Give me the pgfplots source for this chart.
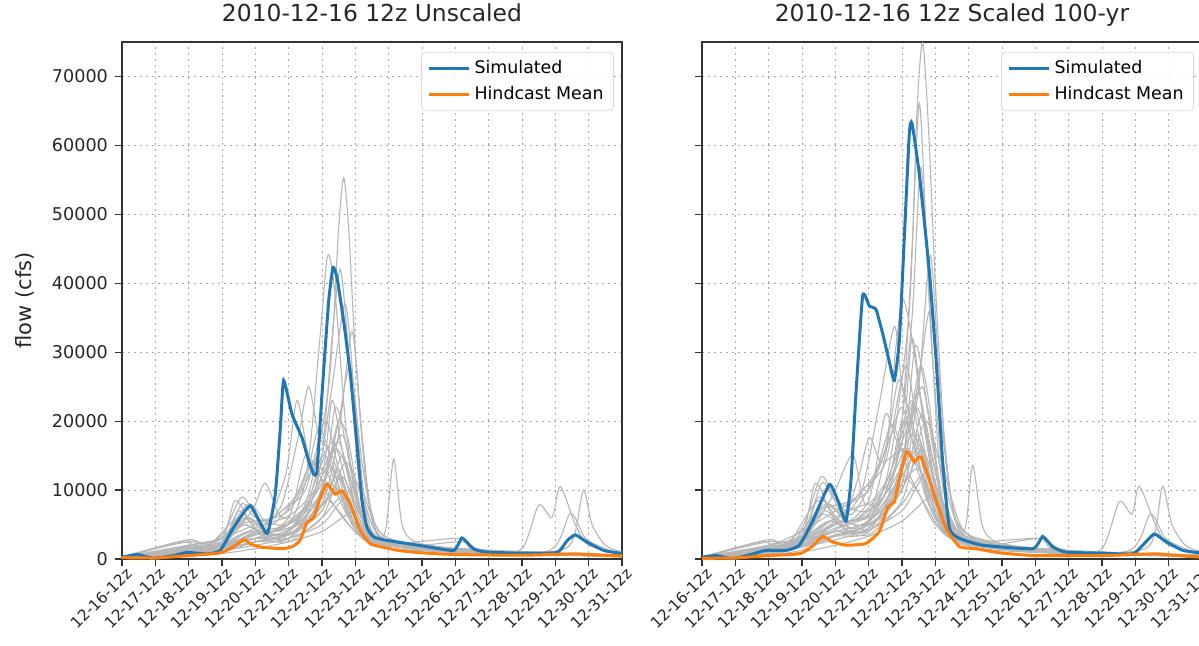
\documentclass[border=0pt]{standalone}
\usepackage{fontspec}
\setmainfont{DejaVu Sans}
\usepackage{pgfplots}
\pgfplotsset{compat=1.18}
\definecolor{mblue}{RGB}{31,119,180}
\definecolor{morange}{RGB}{255,127,14}
\definecolor{ensgray}{RGB}{182,182,182}
\pgfplotsset{
  panel/.style={
    anchor=south west, width=250pt, height=258.5pt, scale only axis,
    xmin=0, xmax=15, ymin=0, ymax=75000,
    xtick={0,...,15},
    xticklabels={12-16-12z,12-17-12z,12-18-12z,12-19-12z,12-20-12z,12-21-12z,12-22-12z,12-23-12z,12-24-12z,12-25-12z,12-26-12z,12-27-12z,12-28-12z,12-29-12z,12-30-12z,12-31-12z},
    ytick={0,10000,...,70000},
    scaled y ticks=false,
    /pgf/number format/fixed,
    /pgf/number format/1000 sep={},
    /pgf/number format/assume math mode=true,
    xticklabel style={rotate=45, anchor=north east, font=\fontsize{7.7}{8}\selectfont, inner sep=1pt, xshift=2pt, text=black!85},
    yticklabel style={font=\fontsize{8.8}{10}\selectfont, text=black!85},
    tick align=outside, major tick length=3.5pt,
    xtick pos=bottom, ytick pos=left,
    tick style={black!80, line width=0.6pt},
    axis line style={black!80, line width=0.8pt},
    grid=major, major grid style={gray!70, line width=0.5pt, dash pattern=on 1pt off 2pt},
    title style={font=\fontsize{11.7}{14}\selectfont, at={(0.5,1)}, anchor=base, yshift=4.5pt, text=black!85},
    legend style={at={(0.984,0.981)}, anchor=north east, draw=black!15, rounded corners=2pt,
      font=\fontsize{8.7}{10}\selectfont, fill=white, fill opacity=0.85, text opacity=1,
      row sep=1pt, inner xsep=3pt, inner ysep=2pt},
    legend cell align=left,
    legend image code/.code={\draw[#1] (0pt,0pt) -- (20pt,0pt);},
    clip=true,
  },
  gl/.style={color=ensgray, line width=0.55pt, smooth, tension=0.45, forget plot},
  sim/.style={color=mblue, line width=1.5pt, smooth, tension=0.3},
  hmean/.style={color=morange, line width=1.5pt, smooth, tension=0.3},
}
\begin{document}
\begin{tikzpicture}
% ---------------- left panel ----------------
\begin{axis}[panel, at={(61pt,43pt)},
  title={2010-12-16 12z Unscaled},
  ylabel={flow (cfs)},
  ylabel style={font=\fontsize{10.5}{12}\selectfont, at={(axis description cs:-0.194,0.5)}, anchor=center, text=black!85}]
\addplot[gl] coordinates {(0,200) (1,300) (2,1500) (3,2500) (3.7,6000) (4.5,4000) (5.5,8000) (6.2,25000) (6.5,48000) (6.65,55300) (6.8,48000) (7.0,30000) (7.3,12000) (7.6,5000) (8,3000) (9,2000) (10,1500) (12,1000) (15,600)};
\addplot[gl] coordinates {(0,100) (1,200) (2,2000) (3,3000) (3.8,8000) (4.5,5000) (5.5,12000) (5.9,30000) (6.17,44000) (6.4,38000) (6.7,20000) (7,9000) (7.4,4000) (8,2500) (9,1800) (11,1000) (15,500)};
\addplot[gl] coordinates {(0,150) (2,800) (3,2000) (3.6,5000) (4.5,3500) (5.5,6000) (6,15000) (6.3,32000) (6.55,42000) (6.8,30000) (7.1,12000) (7.5,4000) (8,2500) (10,1200) (15,500)};
\addplot[gl] coordinates {(0,200) (2,1200) (3,1500) (4,4000) (5,5000) (5.8,10000) (6.3,25000) (6.7,37000) (7,22000) (7.3,8000) (7.8,3000) (9,2000) (12,900) (15,500)};
\addplot[gl] coordinates {(0,100) (2,1000) (3,3500) (3.6,9000) (4.2,5000) (4.8,8000) (5.3,18000) (5.6,25000) (5.9,18000) (6.3,15000) (6.7,9000) (7.2,4000) (8,2000) (10,1000) (15,400)};
\addplot[gl] coordinates {(0,300) (2,2500) (3,2000) (3.5,7000) (4.2,4000) (4.9,12000) (5.25,23000) (5.6,15000) (6.2,12000) (6.8,6000) (7.5,3000) (9,1500) (15,500)};
\addplot[gl] coordinates {(0,200) (2,700) (3,1500) (4,3000) (5,3000) (5.8,7000) (6.2,14000) (6.5,20000) (6.8,17000) (7.2,6000) (7.7,2500) (10,1200) (15,500)};
\addplot[gl] coordinates {(0,100) (2,1800) (3,2500) (3.8,6000) (4.6,3000) (5.5,7000) (6,15000) (6.4,12000) (6.9,5000) (7.5,2500) (9,1500) (15,400)};
\addplot[gl] coordinates {(0,200) (2,1000) (3,2000) (3.9,7000) (4.3,11000) (4.8,6000) (5.6,9000) (6.3,17000) (6.8,10000) (7.3,4000) (8,2500) (10,1300) (15,600)};
\addplot[gl] coordinates {(0,200) (2,1500) (3,1800) (4,3000) (5,4000) (6,9000) (6.5,12000) (7,6000) (7.5,3000) (7.9,4000) (8.15,14500) (8.4,5000) (8.8,2500) (10,1500) (12,800) (15,400)};
\addplot[gl] coordinates {(0,100) (2,1200) (3,1500) (4,2500) (5,3500) (6,8000) (6.5,10000) (7,6000) (7.5,2500) (9,1500) (11,900) (12,1500) (12.5,7800) (12.9,6000) (13.15,10500) (13.6,5000) (14,2000) (15,800)};
\addplot[gl] coordinates {(0,200) (2,800) (3,2000) (4,3000) (5,2500) (6,6000) (6.6,9000) (7,5000) (7.6,2000) (9,1200) (12,800) (13.3,1500) (13.6,4000) (13.85,10000) (14.1,5000) (14.5,2000) (15,1000)};
\addplot[gl] coordinates {(0,100) (2,1500) (3,2500) (3.7,5000) (4.4,3000) (5.5,5000) (6.2,11000) (6.7,8000) (7.2,3000) (8,2000) (10,1000) (12.8,1200) (13.45,6600) (13.9,3000) (14.5,1500) (15,700)};
\addplot[gl] coordinates {(0,200) (2,600) (3,1000) (4,2500) (5,3500) (6,8000) (6.5,18000) (6.9,33000) (7.2,18000) (7.5,6000) (8,2500) (10,1200) (15,500)};
\addplot[gl] coordinates {(0,300) (2,2000) (3,3000) (3.4,8500) (3.9,5000) (4.5,3000) (5.5,5000) (6.2,9000) (6.6,12000) (7,8000) (7.5,3000) (8.5,1800) (10.2,2500) (11,1200) (15,500)};
\addplot[gl] coordinates {(0,100) (2,1000) (3,1500) (4,2500) (5,3000) (6,10000) (6.5,20000) (6.85,28000) (7.2,14000) (7.6,4000) (8.2,2500) (10,1300) (15,500)};
\addplot[gl] coordinates {(0,200) (2,1500) (3,2000) (4,4500) (5,6000) (5.5,5000) (6,9000) (6.5,7000) (7,4000) (8,2000) (10,1000) (15,400)};
\addplot[gl] coordinates {(0,100) (2,500) (3,800) (4,1500) (5,2500) (6,4000) (7,7000) (7.5,4000) (8,2000) (10,1000) (15,300)};
\addplot[gl] coordinates {(0,100) (2,900) (3,1800) (4,3500) (5,5000) (5.5,11000) (5.9,19000) (6.3,14000) (6.8,6000) (7.5,2500) (9,1500) (15,400)};
\addplot[gl] coordinates {(0,150) (2,1200) (3,2200) (3.8,4000) (4.8,3500) (5.8,8000) (6.4,16000) (6.9,11000) (7.4,4000) (8,2200) (10.1,3000) (10.5,1500) (12,900) (15,500)};
\addplot[gl] coordinates {(0,100) (1.8,2500) (2.5,1500) (3.5,6000) (4.5,4000) (5.6,8000) (6.3,13000) (6.7,10000) (7.2,4000) (8,2000) (10,1000) (15,400)};
\addplot[gl] coordinates {(0,200) (2,800) (3,1500) (4,3500) (5,4500) (6,7000) (6.6,15000) (7,9000) (7.5,3000) (9,1500) (15,500)};
\addplot[gl] coordinates {(0,100) (2,1200) (3,2500) (3.6,8000) (4,6000) (5,5000) (6,10000) (6.4,22000) (6.8,15000) (7.3,5000) (8,2500) (10,1200) (15,500)};
\addplot[gl] coordinates {(0,300) (2,2800) (2.6,1800) (3.5,5000) (4.5,6000) (5.2,9000) (5.7,14000) (6.2,9000) (6.8,5000) (7.5,2500) (10,1200) (15,400)};
\addplot[gl] coordinates {(0,150) (2,1000) (3,1500) (4,2500) (5,4000) (6,12000) (6.6,18000) (6.9,12000) (7.3,5000) (8,2500) (10,1200) (15,500)};
\addplot[gl] coordinates {(0,200) (2,1500) (3,2000) (4,4000) (4.8,7000) (5.5,10000) (6.1,20000) (6.5,13000) (7,6000) (7.5,3000) (10,1300) (15,500)};
\addplot[gl] coordinates {(0,100) (2,600) (3,1200) (4,2000) (5,3000) (6,5000) (6.5,8000) (7.1,11000) (7.5,6000) (8,3000) (10,1300) (15,500)};
\addplot[gl] coordinates {(0,200) (2,2000) (3,3000) (4,5000) (5,7000) (5.6,12000) (6,16000) (6.4,11000) (7,5000) (8,2300) (10,1200) (15,500)};
\addplot[gl] coordinates {(0,100) (2,900) (3,2000) (3.9,4000) (5,3500) (6,7000) (6.45,13000) (6.8,9000) (7.3,3500) (8,2000) (10,1100) (15,500)};
\addplot[gl] coordinates {(0,200) (2,1300) (3,2000) (4,3000) (5,6000) (5.5,15000) (5.9,12000) (6.5,17000) (7,8000) (7.6,3000) (9,1600) (15,500)};
\addplot[gl] coordinates {(0,150) (2,1100) (3,2000) (4,3500) (5.2,5000) (6,12000) (6.3,23000) (6.6,16000) (7.1,6000) (7.8,2800) (10,1300) (15,500)};
\addplot[gl] coordinates {(0,200) (2,1700) (3,1800) (4.2,4000) (5,3000) (6,6000) (6.7,14000) (7.2,9000) (7.7,3500) (9,1800) (15,500)};
\addplot[sim] coordinates {(0,250) (0.45,650) (0.95,100) (1.55,500) (1.95,950) (2.55,750) (2.95,1250) (3.35,4600) (3.85,7700) (4.35,3700) (4.6,9500) (4.75,19000) (4.85,25900) (5.1,21000) (5.4,17600) (5.6,14200) (5.75,12300) (5.85,12800) (6.0,23900) (6.2,37400) (6.33,42300) (6.45,40800) (6.65,34500) (6.85,26800) (7.05,16600) (7.2,8400) (7.35,4600) (7.55,3200) (7.95,2700) (8.95,1950) (9.95,1250) (10.2,3050) (10.55,1450) (10.95,1000) (12,850) (13.05,950) (13.35,2650) (13.6,3500) (13.95,2450) (14.45,1250) (15,800)};
\addlegendentry{Simulated}
\addplot[hmean] coordinates {(0,200) (1,150) (2,500) (2.95,900) (3.35,1800) (3.66,2800) (3.85,2200) (4.2,1700) (4.85,1500) (5.15,1900) (5.35,2800) (5.55,5300) (5.75,6000) (5.95,8900) (6.15,10900) (6.4,9400) (6.6,9900) (6.85,8000) (7.15,4100) (7.45,2200) (7.85,1700) (8.35,1200) (9,900) (10,650) (12,550) (13.6,750) (14,650) (15,450)};
\addlegendentry{Hindcast Mean}
\end{axis}
% ---------------- right panel ----------------
\begin{axis}[panel, at={(351pt,43pt)},
  title={2010-12-16 12z Scaled 100-yr},
  yticklabels={}]
\addplot[gl] coordinates {(0,200) (1,300) (2,1500) (3,3000) (3.7,8000) (4.5,5500) (5.5,11000) (6.2,35000) (6.45,65000) (6.62,74900) (6.8,62000) (7.0,40000) (7.3,15000) (7.6,6000) (8,3500) (9,2200) (10,1600) (12,1000) (15,600)};
\addplot[gl] coordinates {(0,100) (1,200) (2,2000) (3,3500) (3.8,10000) (4.5,6500) (5.5,16000) (5.8,30000) (6.02,37700) (6.3,32000) (6.7,18000) (7,10000) (7.4,4500) (8,2800) (9,1900) (11,1000) (15,500)};
\addplot[gl] coordinates {(0,150) (2,800) (3,2500) (3.6,6500) (4.5,4500) (5.5,8000) (6,20000) (6.3,45000) (6.52,66100) (6.75,45000) (7.1,15000) (7.5,5000) (8,2800) (10,1300) (15,500)};
\addplot[gl] coordinates {(0,200) (2,1200) (3,1800) (4,5000) (5,6500) (5.8,13000) (6.3,35000) (6.57,56800) (6.9,30000) (7.3,9000) (7.8,3500) (9,2000) (12,900) (15,500)};
\addplot[gl] coordinates {(0,100) (2,1000) (3,4500) (3.6,12000) (4.2,6500) (4.8,10000) (5.3,22000) (5.77,33700) (6.0,25000) (6.3,20000) (6.7,12000) (7.2,5000) (8,2200) (10,1000) (15,400)};
\addplot[gl] coordinates {(0,300) (2,2500) (3,2500) (3.5,9000) (4.2,5500) (4.7,12000) (5.02,17600) (5.4,14000) (6.2,16000) (6.8,8000) (7.5,3500) (9,1500) (15,500)};
\addplot[gl] coordinates {(0,200) (2,700) (3,2000) (4,4000) (5,4000) (5.8,9000) (6.2,19000) (6.55,28000) (6.8,23000) (7.2,8000) (7.7,3000) (10,1200) (15,500)};
\addplot[gl] coordinates {(0,100) (2,1800) (3,3000) (3.8,8000) (4.6,4000) (5.5,9500) (6,20000) (6.4,16000) (6.9,7000) (7.5,3000) (9,1500) (15,400)};
\addplot[gl] coordinates {(0,200) (2,1000) (3,2500) (3.9,9000) (4.52,15100) (4.9,8000) (5.6,12000) (6.3,23000) (6.8,13000) (7.3,5000) (8,2800) (10,1300) (15,600)};
\addplot[gl] coordinates {(0,200) (2,1500) (3,2200) (4,4000) (5,5500) (6,12000) (6.5,16000) (7,8000) (7.5,3500) (7.9,4500) (8.12,13600) (8.4,5000) (8.8,2500) (10,1500) (12,800) (15,400)};
\addplot[gl] coordinates {(0,100) (2,1200) (3,2000) (4,3500) (5,4500) (6,11000) (6.5,13000) (7,8000) (7.5,3000) (9,1500) (11,900) (12,1500) (12.52,8300) (12.9,6500) (13.12,10550) (13.6,5000) (14,2000) (15,800)};
\addplot[gl] coordinates {(0,200) (2,800) (3,2500) (4,4000) (5,3500) (6,8000) (6.6,12000) (7,6500) (7.6,2500) (9,1200) (12,800) (13.3,1500) (13.6,4000) (13.82,10550) (14.1,5000) (14.5,2000) (15,1000)};
\addplot[gl] coordinates {(0,100) (2,1500) (3,3200) (3.7,7000) (4.4,4000) (5.5,7000) (6.2,15000) (6.7,11000) (7.2,4000) (8,2200) (10,1000) (12.8,1200) (13.45,6500) (13.9,3000) (14.5,1500) (15,700)};
\addplot[gl] coordinates {(0,200) (2,600) (3,1300) (4,3300) (5,4500) (6,11000) (6.5,25000) (6.85,44000) (7.15,24000) (7.5,8000) (8,3000) (10,1200) (15,500)};
\addplot[gl] coordinates {(0,300) (2,2000) (3,3500) (3.4,11000) (3.9,6500) (4.5,4000) (5.5,6500) (6.2,12000) (6.6,16000) (7,11000) (7.5,4000) (8.5,2000) (10.2,3000) (11,1200) (15,500)};
\addplot[gl] coordinates {(0,100) (2,1000) (3,1800) (4,3300) (5,4000) (6,13000) (6.5,26000) (6.85,36000) (7.2,19000) (7.6,5500) (8.2,2800) (10,1300) (15,500)};
\addplot[gl] coordinates {(0,200) (2,1500) (3,2500) (4,6000) (5,8000) (5.5,6500) (6,12000) (6.5,9500) (7,5000) (8,2200) (10,1000) (15,400)};
\addplot[gl] coordinates {(0,100) (2,500) (3,1000) (4,2000) (5,3300) (6,5500) (7,9500) (7.5,5500) (8,2500) (10,1000) (15,300)};
\addplot[gl] coordinates {(0,100) (2,900) (3,2200) (4,4500) (5,6500) (5.5,15000) (5.9,26000) (6.3,19000) (6.8,8000) (7.5,3000) (9,1500) (15,400)};
\addplot[gl] coordinates {(0,150) (2,1200) (3,2800) (3.8,5500) (4.8,4500) (5.8,11000) (6.4,22000) (6.9,15000) (7.4,5000) (8,2500) (10.1,3000) (10.5,1500) (12,900) (15,500)};
\addplot[gl] coordinates {(0,100) (1.8,2500) (2.5,1500) (3.5,8500) (4.5,5500) (5.6,11000) (6.3,18000) (6.7,14000) (7.2,5500) (8,2500) (10,1000) (15,400)};
\addplot[gl] coordinates {(0,200) (2,800) (3,2000) (4,5000) (5,6000) (6,10000) (6.6,21000) (7,12500) (7.5,4000) (9,1500) (15,500)};
\addplot[gl] coordinates {(0,100) (2,1200) (3,3500) (3.6,11000) (4,8500) (5,7000) (6,14000) (6.4,31000) (6.8,21000) (7.3,7000) (8,3000) (10,1200) (15,500)};
\addplot[gl] coordinates {(0,300) (2,2800) (2.6,1800) (3.5,7000) (4.5,8500) (5.2,12500) (5.7,19500) (6.2,12500) (6.8,7000) (7.5,3000) (10,1200) (15,400)};
\addplot[gl] coordinates {(0,150) (2,1000) (3,2000) (4,3500) (5,5500) (6,17000) (6.6,25000) (6.9,17000) (7.3,7000) (8,3000) (10,1200) (15,500)};
\addplot[gl] coordinates {(0,200) (2,1500) (3,2800) (4,5500) (4.8,10000) (5.5,14000) (6.1,28000) (6.5,18000) (7,8500) (7.5,3500) (10,1300) (15,500)};
\addplot[gl] coordinates {(0,100) (2,600) (3,1700) (4,2800) (5,4200) (6,7000) (6.5,11000) (7.1,15000) (7.5,8500) (8,3500) (10,1300) (15,500)};
\addplot[gl] coordinates {(0,200) (2,2000) (3,4000) (4,7000) (5,10000) (5.6,17000) (6,22000) (6.4,15500) (7,7000) (8,2600) (10,1200) (15,500)};
\addplot[gl] coordinates {(0,100) (2,900) (3,2800) (3.9,5500) (5,5000) (6,10000) (6.45,18000) (6.8,12500) (7.3,5000) (8,2200) (10,1100) (15,500)};
\addplot[gl] coordinates {(0,200) (2,1300) (3,2800) (4,4200) (5,8500) (5.5,21000) (5.9,17000) (6.5,24000) (7,11000) (7.6,4000) (9,1600) (15,500)};
\addplot[gl] coordinates {(0,150) (2,1100) (3,2800) (4,5000) (5.2,7000) (6,17000) (6.3,32000) (6.6,22000) (7.1,8500) (7.8,3200) (10,1300) (15,500)};
\addplot[gl] coordinates {(0,200) (2,1700) (3,2500) (4.2,5500) (5,4200) (6,8500) (6.7,20000) (7.2,12500) (7.7,5000) (9,1800) (15,500)};
\addplot[sim] coordinates {(0,250) (0.42,500) (0.92,50) (1.5,700) (1.92,1260) (2.52,1260) (2.92,2000) (3.32,5500) (3.82,10800) (4.07,8550) (4.32,5500) (4.47,11500) (4.62,24100) (4.82,38200) (5.02,36700) (5.22,36200) (5.42,32700) (5.62,28600) (5.77,25900) (5.92,31700) (6.07,46700) (6.22,61800) (6.3,63200) (6.52,55800) (6.82,41700) (7.02,29100) (7.22,14100) (7.42,4500) (7.72,3000) (8.42,2000) (9.92,1500) (10.22,3270) (10.52,1760) (10.92,1000) (12,850) (12.92,750) (13.22,2000) (13.57,3620) (13.92,2510) (14.42,1260) (15,850)};
\addlegendentry{Simulated}
\addplot[hmean] coordinates {(0,100) (1,150) (2,500) (2.92,750) (3.3,1800) (3.62,3270) (3.9,2500) (4.32,2000) (4.92,2260) (5.32,4000) (5.57,7500) (5.77,8300) (5.92,11500) (6.14,15600) (6.37,14100) (6.57,14800) (6.92,10000) (7.32,4500) (7.72,1800) (8.22,1500) (8.92,900) (10,500) (12,500) (13.62,750) (14,600) (15,250)};
\addlegendentry{Hindcast Mean}
\end{axis}
\pgfresetboundingbox
\useasboundingbox (0,0) rectangle (599.5pt,322.5pt);
\end{tikzpicture}
\end{document}
